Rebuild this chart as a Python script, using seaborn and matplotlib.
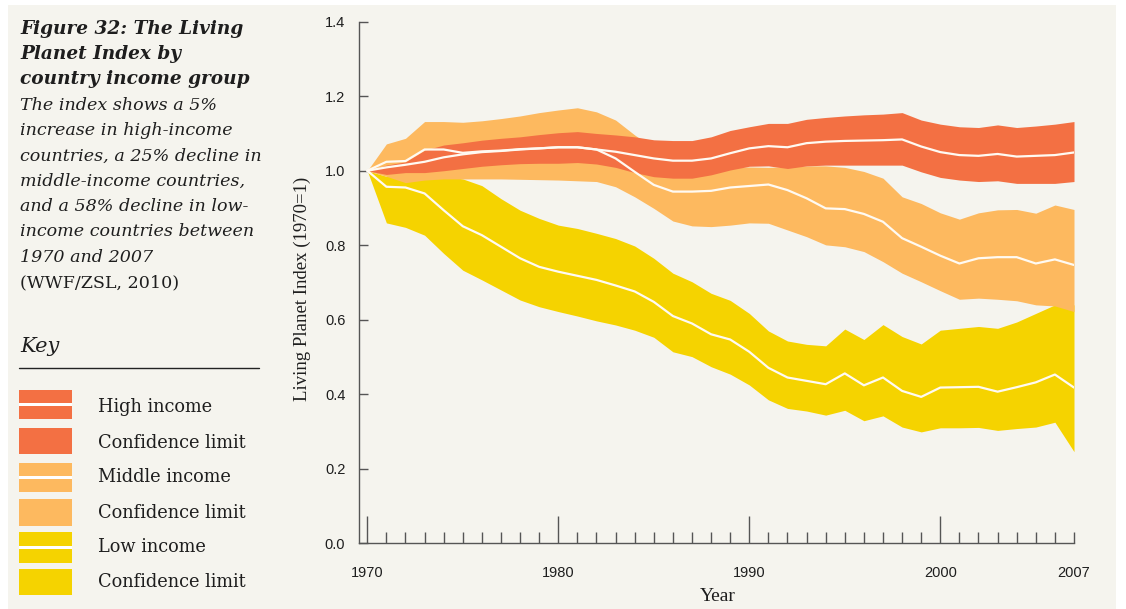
import matplotlib
matplotlib.use("Agg")
import matplotlib.pyplot as plt
import seaborn as sns
import pandas as pd
from matplotlib.patches import Rectangle
from matplotlib.lines import Line2D

# ---------------- data ----------------
years = list(range(1970, 2008))

high_index = [1.000, 1.009, 1.016, 1.024, 1.036, 1.044, 1.050, 1.053, 1.057, 1.060,
              1.063, 1.063, 1.057, 1.051, 1.042, 1.033, 1.027, 1.027, 1.033, 1.047,
              1.060, 1.066, 1.063, 1.074, 1.078, 1.080, 1.081, 1.082, 1.084, 1.065,
              1.050, 1.042, 1.040, 1.045, 1.038, 1.040, 1.042, 1.049]
high_upper = [1.000, 1.015, 1.024, 1.055, 1.069, 1.075, 1.082, 1.087, 1.091, 1.097,
              1.102, 1.105, 1.100, 1.096, 1.091, 1.083, 1.081, 1.081, 1.091, 1.108,
              1.118, 1.127, 1.127, 1.138, 1.143, 1.147, 1.150, 1.152, 1.156, 1.136,
              1.125, 1.118, 1.116, 1.123, 1.116, 1.120, 1.125, 1.132]
high_lower = [1.000, 0.990, 0.995, 0.995, 1.000, 1.006, 1.012, 1.016, 1.019, 1.020,
              1.020, 1.022, 1.018, 1.009, 0.995, 0.984, 0.980, 0.980, 0.989, 1.002,
              1.012, 1.013, 1.006, 1.013, 1.015, 1.015, 1.015, 1.015, 1.015, 0.997,
              0.982, 0.975, 0.971, 0.973, 0.966, 0.966, 0.966, 0.971]

mid_index = [1.000, 1.024, 1.026, 1.057, 1.057, 1.048, 1.052, 1.054, 1.058, 1.060,
             1.063, 1.063, 1.057, 1.033, 0.997, 0.962, 0.944, 0.944, 0.946, 0.955,
             0.959, 0.963, 0.948, 0.926, 0.899, 0.897, 0.884, 0.863, 0.819, 0.796,
             0.772, 0.751, 0.765, 0.768, 0.768, 0.751, 0.762, 0.747]
mid_upper = [1.000, 1.072, 1.087, 1.132, 1.132, 1.130, 1.134, 1.140, 1.147, 1.156,
             1.163, 1.169, 1.158, 1.136, 1.096, 1.060, 1.040, 1.030, 1.020, 1.010,
             1.010, 1.009, 1.011, 1.013, 1.013, 1.009, 0.998, 0.980, 0.930, 0.912,
             0.887, 0.870, 0.887, 0.895, 0.896, 0.886, 0.908, 0.896]
mid_lower = [1.000, 0.985, 0.968, 0.975, 0.978, 0.978, 0.978, 0.978, 0.977, 0.976,
             0.975, 0.973, 0.971, 0.957, 0.930, 0.899, 0.865, 0.852, 0.850, 0.854,
             0.860, 0.859, 0.841, 0.823, 0.801, 0.796, 0.783, 0.756, 0.725, 0.702,
             0.678, 0.655, 0.658, 0.655, 0.651, 0.640, 0.637, 0.622]

low_index = [1.000, 0.957, 0.955, 0.939, 0.894, 0.851, 0.827, 0.796, 0.765, 0.742,
             0.729, 0.718, 0.707, 0.692, 0.676, 0.648, 0.610, 0.590, 0.561, 0.547,
             0.514, 0.471, 0.445, 0.436, 0.427, 0.456, 0.424, 0.445, 0.409, 0.393,
             0.418, 0.419, 0.420, 0.407, 0.419, 0.432, 0.453, 0.418]
low_upper = [1.000, 0.985, 0.982, 0.986, 0.986, 0.978, 0.960, 0.925, 0.894, 0.872,
             0.854, 0.845, 0.832, 0.818, 0.798, 0.765, 0.725, 0.702, 0.671, 0.652,
             0.617, 0.570, 0.543, 0.534, 0.530, 0.575, 0.547, 0.587, 0.555, 0.535,
             0.572, 0.577, 0.582, 0.577, 0.594, 0.617, 0.640, 0.640]
low_lower = [1.000, 0.860, 0.848, 0.827, 0.778, 0.733, 0.707, 0.680, 0.653, 0.635,
             0.622, 0.610, 0.597, 0.586, 0.572, 0.553, 0.514, 0.501, 0.474, 0.454,
             0.425, 0.385, 0.362, 0.355, 0.344, 0.357, 0.329, 0.342, 0.312, 0.299,
             0.310, 0.310, 0.311, 0.303, 0.308, 0.312, 0.325, 0.246]

groups = ["Low income", "Middle income", "High income"]
x_major = [1970, 1980, 1990, 2000]
x_minor_labels = {2007: "2007"}
y_ticks = [0.0, 0.2, 0.4, 0.6, 0.8, 1.0, 1.2, 1.4]

title_lines = ["Figure 32: The Living", "Planet Index by", "country income group"]
body_lines = ["The index shows a 5%", "increase in high-income",
              "countries, a 25% decline in", "middle-income countries,",
              "and a 58% decline in low-", "income countries between",
              "1970 and 2007"]
source_line = "(WWF/ZSL, 2010)"
key_labels = ["High income", "Confidence limit", "Middle income",
              "Confidence limit", "Low income", "Confidence limit"]

# ---------------- style ----------------
BG = "#f5f4ee"
RED = "#f37043"
ORANGE = "#fdb95f"
YELLOW = "#f5d300"
LINE = "#fffaf2"
AX = "#555555"
TXT = "#1e1e1e"

sns.set_theme(style="white")
plt.rcParams["font.family"] = ["DejaVu Serif", "DejaVu Sans"]

W, H = 1126, 609
fig = plt.figure(figsize=(W / 100, H / 100), dpi=100)
fig.patch.set_facecolor("white")


def fx(x):
    return x / W


def fy(y):
    return 1 - y / H


fig.add_artist(Rectangle((fx(8), 0), fx(1116 - 8), 1 - 5 / H,
                         transform=fig.transFigure, facecolor=BG,
                         edgecolor="none", zorder=-10))

ax = fig.add_axes([fx(358.5), 65.7 / H, fx(715.5), 521.6 / H])
ax.patch.set_alpha(0)

bands = [(low_lower, low_upper, YELLOW),
         (mid_lower, mid_upper, ORANGE),
         (high_lower, high_upper, RED)]
for i, (lo, up, col) in enumerate(bands):
    ax.fill_between(years, lo, up, color=col, linewidth=0, zorder=1 + i)

df = pd.DataFrame({
    "Year": years * 3,
    "Index": low_index + mid_index + high_index,
    "Group": sum([[g] * len(years) for g in groups], []),
})
sns.lineplot(data=df, x="Year", y="Index", hue="Group",
             palette={g: LINE for g in groups}, legend=False, ax=ax,
             linewidth=1.6, zorder=10)

ax.set_xlim(1969.54, 2007.0)
ax.set_ylim(0, 1.4)
for s in ["top", "right"]:
    ax.spines[s].set_visible(False)
for s in ["left", "bottom"]:
    ax.spines[s].set_color(AX)
    ax.spines[s].set_linewidth(1.0)

ax.set_xticks(x_major)
ax.set_xticklabels([str(v) for v in x_major])
minor = [y for y in years if y not in x_major]
ax.set_xticks(minor, minor=True)
ax.set_xticklabels([x_minor_labels.get(y, "") for y in minor], minor=True)
ax.set_yticks(y_ticks)
ax.set_yticklabels([f"{v:.1f}" for v in y_ticks])

ax.tick_params(axis="x", which="both", bottom=True, top=False)
ax.tick_params(axis="y", which="both", left=True, right=False)
ax.tick_params(axis="x", which="major", direction="in", length=19.5,
               width=1.0, color=AX, pad=16.5, labelsize=10.5,
               labelcolor=TXT, labelfontfamily="Liberation Sans")
ax.tick_params(axis="x", which="minor", direction="in", length=8,
               width=1.0, color=AX, pad=16.5, labelsize=10.5,
               labelcolor=TXT, labelfontfamily="Liberation Sans")
ax.tick_params(axis="y", which="major", direction="in", length=6.5,
               width=1.0, color=AX, pad=9.5, labelsize=10.5,
               labelcolor=TXT, labelfontfamily="Liberation Sans")
ax.grid(False)

ax.set_ylabel("Living Planet Index (1970=1)", fontfamily="Liberation Serif",
              fontsize=13.5, color=TXT)
ax.yaxis.set_label_coords((311 - 358.5) / 715.5, (543.3 - 289) / 521.6)
ax.set_xlabel("Year", fontfamily="Liberation Serif", fontsize=14, color=TXT)
ax.xaxis.set_label_coords((718 - 358.5) / 715.5, (543.3 - 588) / 521.6)

# ---------------- left text panel ----------------
X0 = 20
for i, t in enumerate(title_lines):
    fig.text(fx(X0), fy(33.5 + 25.3 * i), t, fontsize=13.3, fontweight="bold",
             fontstyle="italic", color=TXT, va="baseline", ha="left")
for i, t in enumerate(body_lines):
    fig.text(fx(X0), fy(110 + 25.3 * i), t, fontsize=12.6, fontstyle="italic",
             color=TXT, va="baseline", ha="left")
fig.text(fx(X0), fy(287.3), source_line, fontsize=12.6, color=TXT,
         va="baseline", ha="left")

fig.text(fx(X0), fy(351.7), "Key", fontsize=15, fontstyle="italic",
         color=TXT, va="baseline", ha="left")
fig.add_artist(Line2D([fx(19), fx(259)], [fy(368.3), fy(368.3)],
                      transform=fig.transFigure, color="#222222", lw=1.0))


def frect(x0, y0, x1, y1, color):
    fig.add_artist(Rectangle((fx(x0), fy(y1)), fx(x1 - x0), (y1 - y0) / H,
                             transform=fig.transFigure, facecolor=color,
                             edgecolor="none"))


sw = [(390, 419.3, RED, True), (428.3, 454.3, RED, False),
      (463.3, 492.3, ORANGE, True), (499, 525.7, ORANGE, False),
      (532, 562.7, YELLOW, True), (569.3, 595, YELLOW, False)]
baselines = [411.7, 447.7, 482.3, 518.3, 552.3, 587.3]
for (y0, y1, col, dbl), lab, bl in zip(sw, key_labels, baselines):
    frect(19, y0, 72.3, y1, col)
    if dbl:
        m = (y0 + y1) / 2
        frect(19, m - 1.4, 72.3, m + 1.4, "#ffffff")
    fig.text(fx(98), fy(bl), lab, fontsize=12.8, color=TXT,
             va="baseline", ha="left")

fig.savefig("out.png", dpi=100, facecolor=fig.get_facecolor())
